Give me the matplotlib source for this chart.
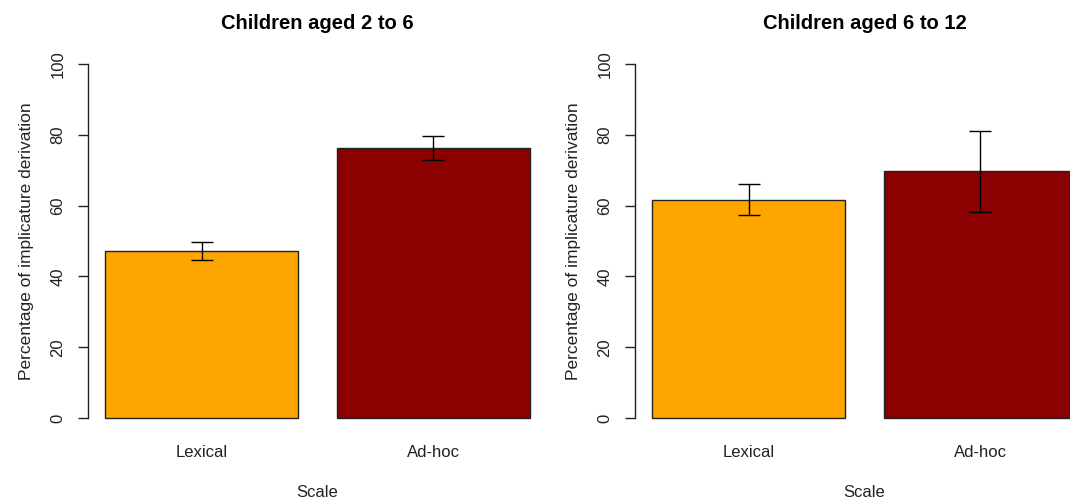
import matplotlib
matplotlib.use("Agg")
import matplotlib.pyplot as plt
import numpy as np

plt.rcParams['font.family'] = ['Liberation Sans', 'DejaVu Sans']

# Data
scales = ["Lexical", "Ad-hoc"]
bar_colors = ["#FFA500", "#8B0000"]

titles = ["Children aged 2 to 6", "Children aged 6 to 12"]
means_2_6 = [47.2, 76.3]
err_2_6 = [2.6, 3.4]
means_6_12 = [61.7, 69.7]
err_6_12 = [4.45, 11.45]
yticks = [0, 20, 40, 60, 80, 100]

fig = plt.figure(figsize=(10.7, 5.0), dpi=100)

# bar layout like R's barplot: width 1, space 0.2
centers = np.array([0.7, 1.9])
xlim = (0.112, 2.488)
ylim = (-4, 104)

panels = [
    (0.08224, titles[0], means_2_6, err_2_6),
    (0.5935, titles[1], means_6_12, err_6_12),
]

for left, title, means, errs in panels:
    ax = fig.add_axes([left, 0.1356, 0.429, 0.7648])
    ax.bar(centers, means, width=1.0, color=bar_colors,
           edgecolor="#222222", linewidth=1.0, zorder=2)
    ax.errorbar(centers, means, yerr=errs, fmt="none", ecolor="black",
                elinewidth=1.0, capsize=7.6, capthick=1.0, zorder=3)
    ax.set_xlim(*xlim)
    ax.set_ylim(*ylim)
    for s in ("top", "right", "bottom"):
        ax.spines[s].set_visible(False)
    ax.spines["left"].set_bounds(0, 100)
    ax.spines["left"].set_linewidth(1.0)
    ax.spines["left"].set_color("#222222")
    ax.set_yticks(yticks)
    ax.set_yticklabels([str(t) for t in yticks], rotation=90, va="center",
                       fontsize=12, color="#222222")
    ax.tick_params(axis="y", length=7.2, width=1.0, pad=9, color="#222222")
    ax.set_xticks(centers)
    ax.set_xticklabels(scales, fontsize=12, color="#222222")
    ax.tick_params(axis="x", length=0, pad=9)
    ax.set_xlabel("Scale", fontsize=12, color="#222222", labelpad=18)
    ax.set_ylabel("Percentage of implicature derivation", fontsize=12.5,
                  color="#222222", labelpad=12)
    ax.set_title(title, fontsize=14.5, fontweight="bold", pad=15)

fig.savefig("out.png", dpi=100, facecolor="white")
